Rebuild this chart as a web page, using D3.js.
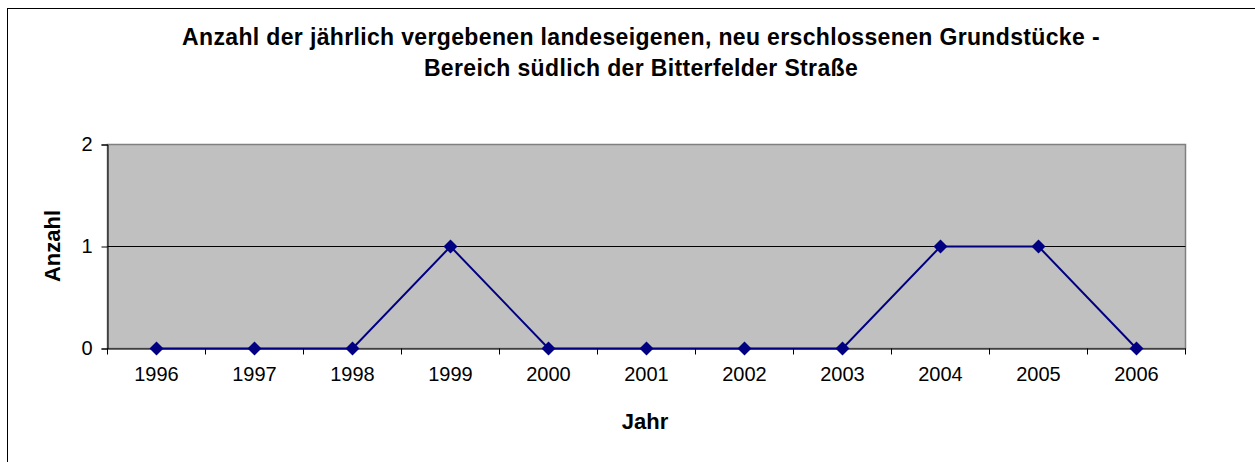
<!DOCTYPE html>
<html><head><meta charset="utf-8">
<script src="https://cdn.jsdelivr.net/npm/d3@7"></script>
<style>body{margin:0;background:#fff}svg{display:block}text{font-family:"Liberation Sans",Arial,sans-serif}</style>
</head><body><svg id="c" width="1255" height="462"></svg>
<script>
const years = ["1996","1997","1998","1999","2000","2001","2002","2003","2004","2005","2006"];
const counts = [0,0,0,1,0,0,0,0,1,1,0];
const yTicks = [0,1,2];
const titleLines = ["Anzahl der jährlich vergebenen landeseigenen, neu erschlossenen Grundstücke -","Bereich südlich der Bitterfelder Straße"];
const xTitle = "Jahr", yTitle = "Anzahl";

const svg = d3.select("#c");
const L=107.5, R=1185.5, T=144.5, B=348.5;
svg.append("rect").attr("x",7.5).attr("y",8.5).attr("width",1300).attr("height",500).attr("fill","#fff").attr("stroke","#000");

const x = d3.scaleBand().domain(years).range([L,R]).padding(0);
const y = d3.scaleLinear().domain([0,2]).range([B,T]);

svg.append("rect").attr("x",L).attr("y",T).attr("width",R-L).attr("height",B-T).attr("fill","#c0c0c0").attr("stroke","#808080").attr("stroke-width",1.5);
svg.append("g").selectAll("line").data(yTicks.filter(d=>d>0&&d<2)).join("line")
  .attr("x1",L).attr("x2",R).attr("y1",d=>y(d)).attr("y2",d=>y(d)).attr("stroke","#000");

const ya = svg.append("g").attr("transform",`translate(${L},0)`).call(d3.axisLeft(y).tickValues(yTicks).tickFormat(d3.format("d")).tickSize(6).tickPadding(9));
ya.select(".domain").attr("stroke","#000");
ya.selectAll("text").attr("font-size",20).attr("fill","#000").attr("font-family","Liberation Sans, Arial, sans-serif");
ya.selectAll(".tick line").attr("stroke","#000");

const xa = svg.append("g").attr("transform",`translate(0,${B})`).call(d3.axisBottom(x).tickSize(0).tickPadding(18));
xa.select(".domain").attr("stroke","#000");
xa.selectAll("text").attr("font-size",20).attr("fill","#000").attr("font-family","Liberation Sans, Arial, sans-serif");
svg.append("g").selectAll("line").data(years.concat(["end"])).join("line")
  .attr("x1",(d,i)=> i<years.length ? x(d) : R).attr("x2",(d,i)=> i<years.length ? x(d) : R)
  .attr("y1",B).attr("y2",B+6).attr("stroke","#000");

const line = d3.line().x((d,i)=>x(years[i])+x.bandwidth()/2).y(d=>y(d));
svg.append("path").datum(counts).attr("d",line).attr("fill","none").attr("stroke","#000080").attr("stroke-width",2);
svg.append("g").selectAll("path").data(counts).join("path")
  .attr("d",d3.symbol(d3.symbolSquare,98))
  .attr("transform",(d,i)=>`translate(${x(years[i])+x.bandwidth()/2},${y(d)}) rotate(45)`)
  .attr("fill","#000080");

svg.append("g").selectAll("text").data(titleLines).join("text")
  .attr("x",641).attr("y",(d,i)=>45+i*31).attr("text-anchor","middle")
  .attr("font-size",23).attr("letter-spacing","0.35px").attr("font-weight","bold").text(d=>d);
svg.append("text").attr("x",645).attr("y",429).attr("text-anchor","middle").attr("font-size",22).attr("font-weight","bold").text(xTitle);
svg.append("text").attr("transform","translate(60,246) rotate(-90)").attr("text-anchor","middle").attr("font-size",22).attr("font-weight","bold").text(yTitle);
</script></body></html>
